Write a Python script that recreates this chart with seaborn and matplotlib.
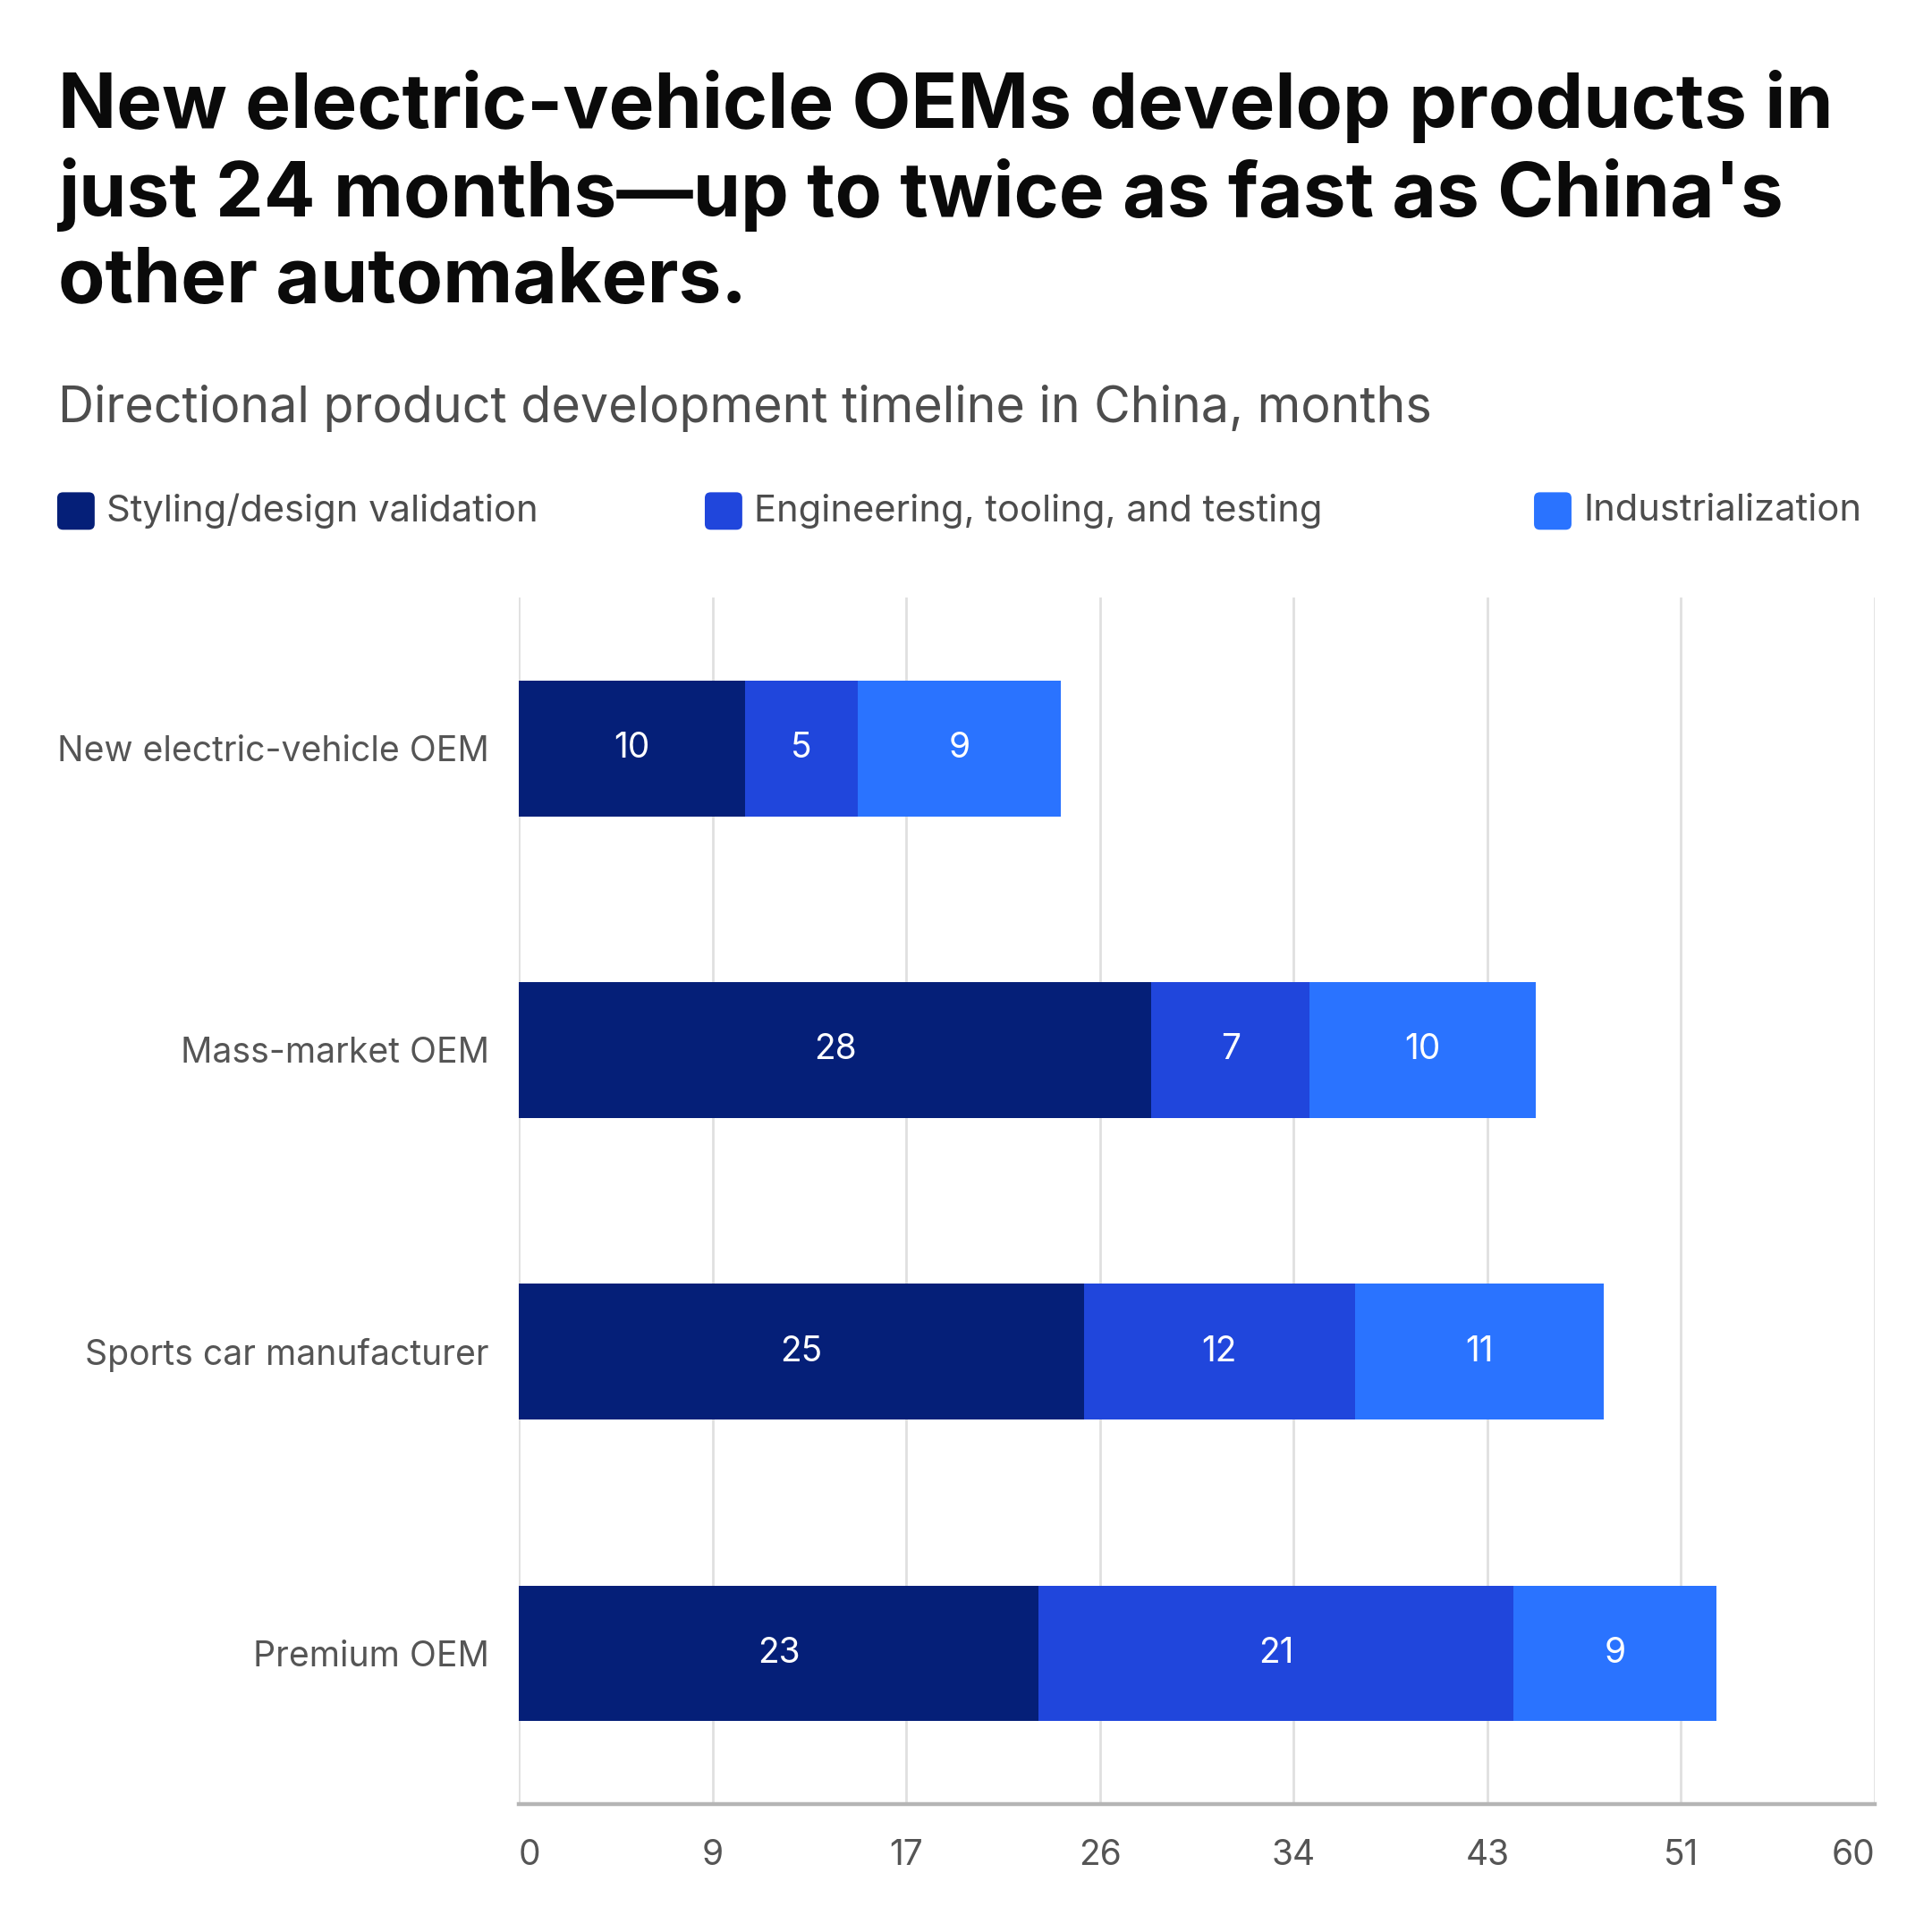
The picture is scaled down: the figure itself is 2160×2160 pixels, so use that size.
import matplotlib
matplotlib.use("Agg")
import matplotlib.pyplot as plt
from matplotlib.patches import FancyBboxPatch
import seaborn as sns
import numpy as np
import pandas as pd

categories = ["New electric-vehicle OEM", "Mass-market OEM", "Sports car manufacturer", "Premium OEM"]
styling = [10, 28, 25, 23]
engineering = [5, 7, 12, 21]
industrial = [9, 10, 11, 9]
series_names = ["Styling/design validation", "Engineering, tooling, and testing", "Industrialization"]
colors = ["#051F78", "#2046DC", "#2A73FF"]
tick_values = np.linspace(0, 60, 8)
tick_labels = ["0", "9", "17", "26", "34", "43", "51", "60"]

title_lines = ["New electric-vehicle OEMs develop products in",
               "just 24 months\u2014up to twice as fast as China's",
               "other automakers."]
subtitle = "Directional product development timeline in China, months"

sns.set_theme(style="white")
plt.rcParams["font.family"] = ["Inter", "DejaVu Sans"]

df = pd.DataFrame({"cat": categories, "s1": styling, "s2": engineering, "s3": industrial})
df["c1"] = df["s1"]
df["c2"] = df["s1"] + df["s2"]
df["c3"] = df["c2"] + df["s3"]

fig = plt.figure(figsize=(10.8, 10.8), dpi=200)
ax = fig.add_axes([0.2685, 0.0662, 0.7019, 0.6245])

for col, c in zip(["c3", "c2", "c1"], colors[::-1]):
    sns.barplot(data=df, x=col, y="cat", orient="h", color=c, width=0.45,
                linewidth=0, saturation=1, ax=ax, zorder=3)

# value labels
for i, row in df.iterrows():
    starts = [0, row["c1"], row["c2"]]
    vals = [row["s1"], row["s2"], row["s3"]]
    for s, v in zip(starts, vals):
        ax.text(s + v / 2, i, f"{v}", ha="center", va="center", color="white",
                fontsize=14, zorder=5)

ax.set_xlim(0, 60)
ax.set_ylim(3.5, -0.5)
ax.set_xticks(tick_values)
ax.set_xticklabels(tick_labels)
xt = ax.get_xticklabels()
xt[0].set_horizontalalignment("left")
xt[-1].set_horizontalalignment("right")
ax.set_xlabel("")
ax.set_ylabel("")
ax.grid(axis="x", color="#e0e0e0", linewidth=1.0, zorder=0)
ax.grid(axis="y", visible=False)
for s in ["top", "right", "left"]:
    ax.spines[s].set_visible(False)
ax.spines["bottom"].set_color("#b5b5b5")
ax.spines["bottom"].set_linewidth(1.6)
ax.tick_params(axis="x", length=0, pad=14, labelsize=14, labelcolor="#555555")
ax.tick_params(axis="y", length=0, pad=12, labelsize=14.1, labelcolor="#555555")

title_y = [0.9338, 0.8880, 0.8435]
for line, y in zip(title_lines, title_y):
    fig.text(0.0300, y, line, fontsize=30.8, fontweight="bold", color="#0a0a0a",
             ha="left", va="baseline")
fig.text(0.0300, 0.7815, subtitle, fontsize=20, color="#4d4d4d", ha="left", va="baseline")

# legend
leg_x = [0.0296, 0.3648, 0.7940]
leg_y = 0.7355
sq = 0.0194
for x, name, c in zip(leg_x, series_names, colors):
    fig.patches.append(FancyBboxPatch((x, leg_y - sq / 2), sq, sq,
                                      boxstyle="round,pad=0,rounding_size=0.003",
                                      transform=fig.transFigure, facecolor=c,
                                      edgecolor="none", figure=fig))
    fig.text(x + 0.0255, leg_y, name, fontsize=15, color="#4d4d4d", ha="left", va="center")

fig.savefig("out.png", dpi=200, facecolor="white")
